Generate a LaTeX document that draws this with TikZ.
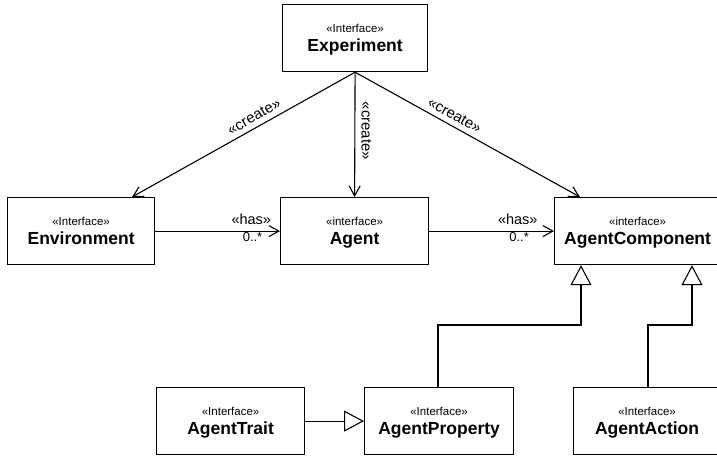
\documentclass[tikz,border=0pt]{standalone}
\usepackage{fontspec}
\setmainfont{Liberation Sans}
\usetikzlibrary{arrows.meta,calc}
\tikzset{
  umlbox/.style={draw, line width=1.2pt, minimum height=67pt, anchor=north west, inner sep=0pt},
  stereo/.style={font=\fontsize{11.5}{12}\selectfont, anchor=base, inner sep=0pt},
  cname/.style={font=\fontsize{17.5}{18}\selectfont\bfseries, anchor=base, inner sep=0pt},
  conn/.style={line width=1.1pt},
  dep/.style={conn, -{Straight Barb[length=10pt,width=11pt]}},
  gen/.style={conn, -{Triangle[open, length=20pt, width=21pt]}},
  lbl/.style={font=\fontsize{15}{16}\selectfont, inner sep=0pt},
  haslbl/.style={font=\fontsize{14.5}{16}\selectfont, inner sep=0pt},
  mult/.style={font=\fontsize{13}{14}\selectfont, inner sep=0pt},
}
\newcommand{\umlclass}[6]{%
  \node[umlbox, minimum width=#4pt] (#1) at (#2,#3) {};
  \node[stereo] (#1-st) at ([yshift=-28pt]#1.north) {«#5»};
  \node[cname] (#1-nm) at ([yshift=-47pt]#1.north) {#6};
}
\begin{document}
\begin{tikzpicture}[x=1pt,y=-1pt]
\useasboundingbox (0,0) rectangle (717,455);
\clip (0,0) rectangle (717,455);

\umlclass{exp}{282}{4}{145}{Interface}{Experiment}
\umlclass{env}{7}{197}{147}{Interface}{Environment}
\umlclass{agent}{280}{197}{148}{interface}{Agent}
\umlclass{comp}{554}{197}{166}{interface}{AgentComponent}
\umlclass{trait}{156}{387}{148}{Interface}{AgentTrait}
\umlclass{prop}{364}{387}{149}{Interface}{AgentProperty}
\umlclass{action}{573}{387}{147}{Interface}{AgentAction}

% create dependencies
\draw[dep] (exp.south) -- node[lbl, sloped, above=5pt, pos=0.43] (c1) {«create»} ([xshift=125pt]env.north west);
\draw[dep] (exp.south) -- node[lbl, rotate=-90, anchor=south, inner ysep=6pt, pos=0.47] (c2) {«create»} (agent.north);
\draw[dep] (exp.south) -- node[lbl, sloped, above=5pt, pos=0.42] (c3) {«create»} ([xshift=26pt]comp.north west);

% has associations
\draw[dep] (env.east) -- node[haslbl, above=6pt, pos=0.77] (h1) {«has»} node[mult, below=1pt, pos=0.78] (m1) {0..*} (agent.west);
\draw[dep] (agent.east) -- node[haslbl, above=6pt, pos=0.71] (h2) {«has»} node[mult, below=1pt, pos=0.72] (m2) {0..*} (comp.west);

% generalizations
\draw[gen] ([xshift=74pt]prop.north west) -- ++(0,-62) -| ([xshift=27pt]comp.south west);
\draw[gen] ([xshift=75pt]action.north west) -- ++(0,-62) -| ([xshift=138pt]comp.south west);
\draw[gen] (trait.east) -- (prop.west);
\end{tikzpicture}
\end{document}
